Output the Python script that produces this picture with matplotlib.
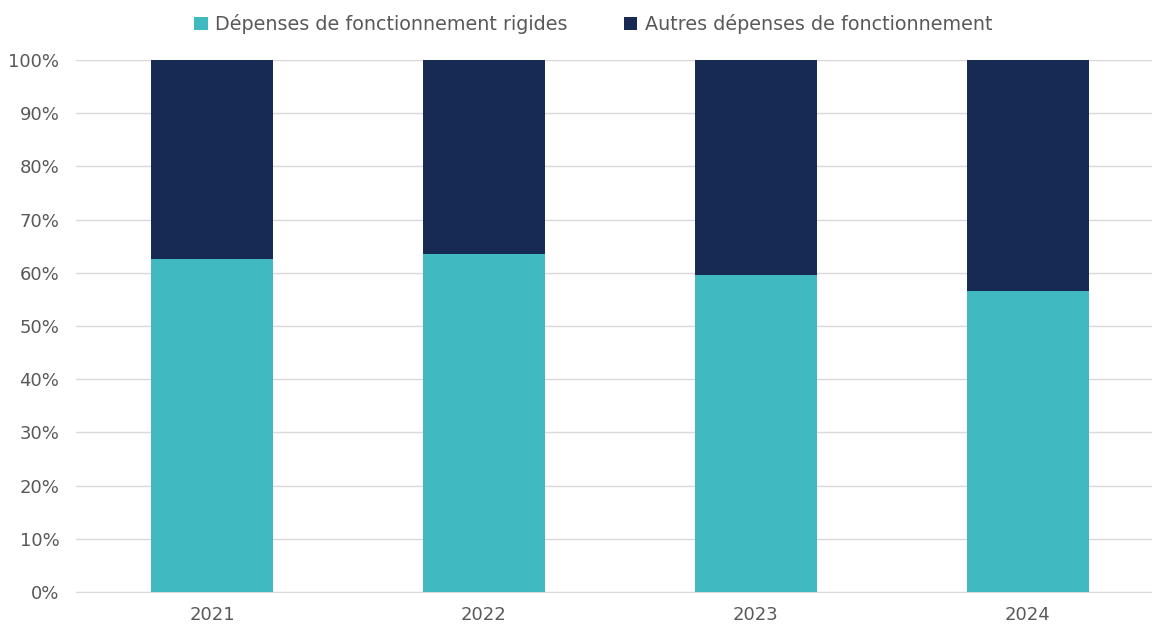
import numpy as np
import matplotlib.pyplot as plt
from matplotlib.ticker import PercentFormatter

plt.rcParams['font.family'] = ['DejaVu Sans']

# Share of operating expenses by year (%)
years = ["2021", "2022", "2023", "2024"]
rigides = [62.6, 63.5, 59.6, 56.6]
autres = [100 - v for v in rigides]

teal = "#41B9C1"
navy = "#172A54"
grey_txt = "#595959"

fig = plt.figure(figsize=(11.52, 6.26), dpi=100)
ax = fig.add_axes([76 / 1152, 34 / 626, 1088 / 1152, 532 / 626])

x = np.arange(len(years))
w = 0.452
ax.bar(x, rigides, width=w, color=teal, label="Dépenses de fonctionnement rigides", zorder=3)
ax.bar(x, autres, width=w, bottom=rigides, color=navy, label="Autres dépenses de fonctionnement", zorder=3)

ax.set_xlim(-0.5, 3.5)
ax.set_ylim(0, 100)
ax.set_yticks(np.arange(0, 101, 10))
ax.yaxis.set_major_formatter(PercentFormatter(decimals=0))
ax.set_xticks(x)
ax.set_xticklabels(years)
ax.grid(axis="y", color="#D9D9D9", linewidth=1, zorder=0)
for s in ["top", "right", "left"]:
    ax.spines[s].set_visible(False)
ax.spines["bottom"].set_color("#D9D9D9")
ax.tick_params(axis="both", length=0, labelsize=13, labelcolor=grey_txt)
ax.tick_params(axis="y", pad=12)
ax.tick_params(axis="x", pad=10)

fig.legend(loc="upper center", bbox_to_anchor=(0.515, 1.005), ncol=2, frameon=False,
           fontsize=13.8, labelcolor=grey_txt, handlelength=0.7, handleheight=0.7,
           handletextpad=0.4, columnspacing=2.9)

fig.savefig("out.png", dpi=100)
